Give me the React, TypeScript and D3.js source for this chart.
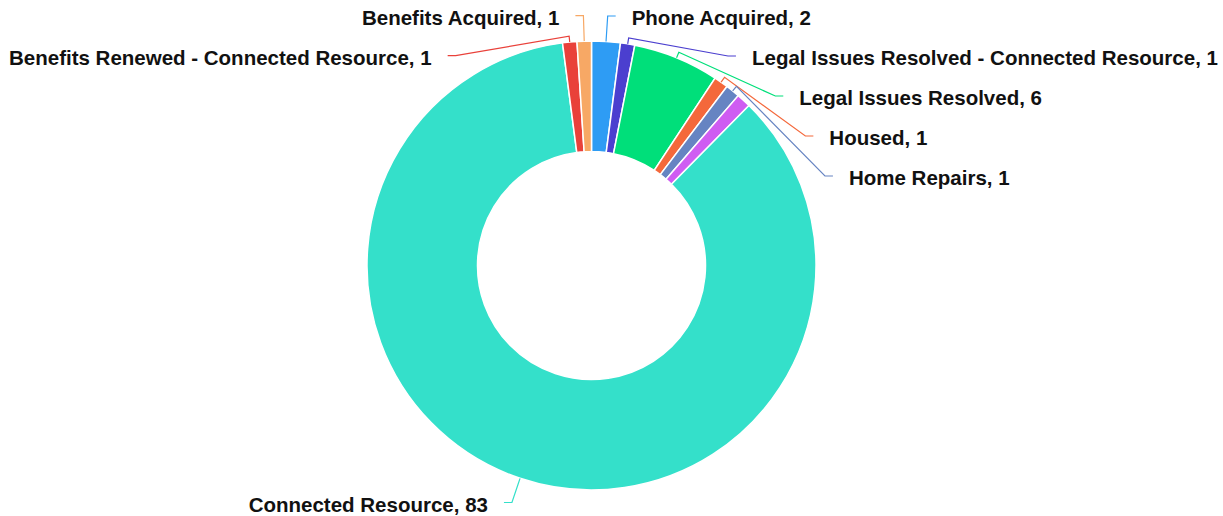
import React from 'react';
import * as d3 from 'd3';

const categories = [
  'Phone Acquired',
  'Legal Issues Resolved - Connected Resource',
  'Legal Issues Resolved',
  'Housed',
  'Home Repairs',
  '',
  'Connected Resource',
  'Benefits Renewed - Connected Resource',
  'Benefits Acquired',
];
const values = [2, 1, 6, 1, 1, 1, 83, 1, 1];
const colors = ['#2E9CF4', '#4B3FCF', '#00DF7A', '#F4683B', '#6684C2', '#CF5CF2', '#34E0CA', '#E9413A', '#F7A865'];
const showLabel = [true, true, true, true, true, false, true, true, true];

const W = 1223;
const H = 516;
const cx = 591.5;
const cy = 265.5;
const rOuter = 224.5;
const rInner = 114;
const labelR = 250;
const spacing = 40;

type Lab = {
  i: number;
  mid: number;
  side: 1 | -1;
  nx: number;
  ny: number;
  y: number;
};

export default function App() {
  const pie = d3.pie<number>().sort(null).value((d) => d)(values);
  const arc = d3.arc<d3.PieArcDatum<number>>().innerRadius(rInner).outerRadius(rOuter);

  const labs: Lab[] = pie
    .map((p, i) => {
      const mid = (p.startAngle + p.endAngle) / 2;
      return {
        i,
        mid,
        side: (mid < Math.PI ? 1 : -1) as 1 | -1,
        nx: cx + labelR * Math.sin(mid),
        ny: cy - labelR * Math.cos(mid),
        y: 0,
      };
    })
    .filter((l) => showLabel[l.i]);

  [1, -1].forEach((s) => {
    const group = labs.filter((l) => l.side === s).sort((a, b) => a.ny - b.ny);
    let prev = -Infinity;
    group.forEach((l) => {
      l.y = Math.max(l.ny, prev + spacing);
      prev = l.y;
    });
  });

  return (
    <svg
      width={W}
      height={H}
      style={{ position: 'absolute', left: 0, top: 0, display: 'block', background: '#fff' }}
    >
      <g>
        {pie.map((p, i) => (
          <path
            key={i}
            d={arc(p) || ''}
            transform={`translate(${cx},${cy})`}
            fill={colors[i]}
            stroke="#fff"
            strokeWidth={1.5}
          />
        ))}
      </g>
      <g>
        {labs.map((l) => {
          const moved = Math.abs(l.y - l.ny) > 0.01;
          const dy = l.y - cy;
          const cornerX = moved
            ? cx + l.side * Math.sqrt(Math.max(0, labelR * labelR - dy * dy))
            : l.nx;
          const endX = cornerX + l.side * 8;
          const tx = cx + rOuter * Math.sin(l.mid);
          const ty = cy - rOuter * Math.cos(l.mid);
          const bx = cx + (rOuter + 6) * Math.sin(l.mid);
          const by = cy - (rOuter + 6) * Math.cos(l.mid);
          const path = d3.path();
          path.moveTo(tx, ty);
          path.lineTo(bx, by);
          path.lineTo(cornerX, l.y);
          path.lineTo(endX, l.y);
          return (
            <g key={l.i}>
              <path d={path.toString()} fill="none" stroke={colors[l.i]} strokeWidth={1.2} />
              <text
                x={endX + l.side * 16}
                y={l.y}
                dy="0.45em"
                textAnchor={l.side === 1 ? 'start' : 'end'}
                fontFamily="'Liberation Sans', Arial, sans-serif"
                fontWeight="bold"
                fontSize={20.5}
                fill="#111"
              >
                {`${categories[l.i]}, ${values[l.i]}`}
              </text>
            </g>
          );
        })}
      </g>
    </svg>
  );
}
